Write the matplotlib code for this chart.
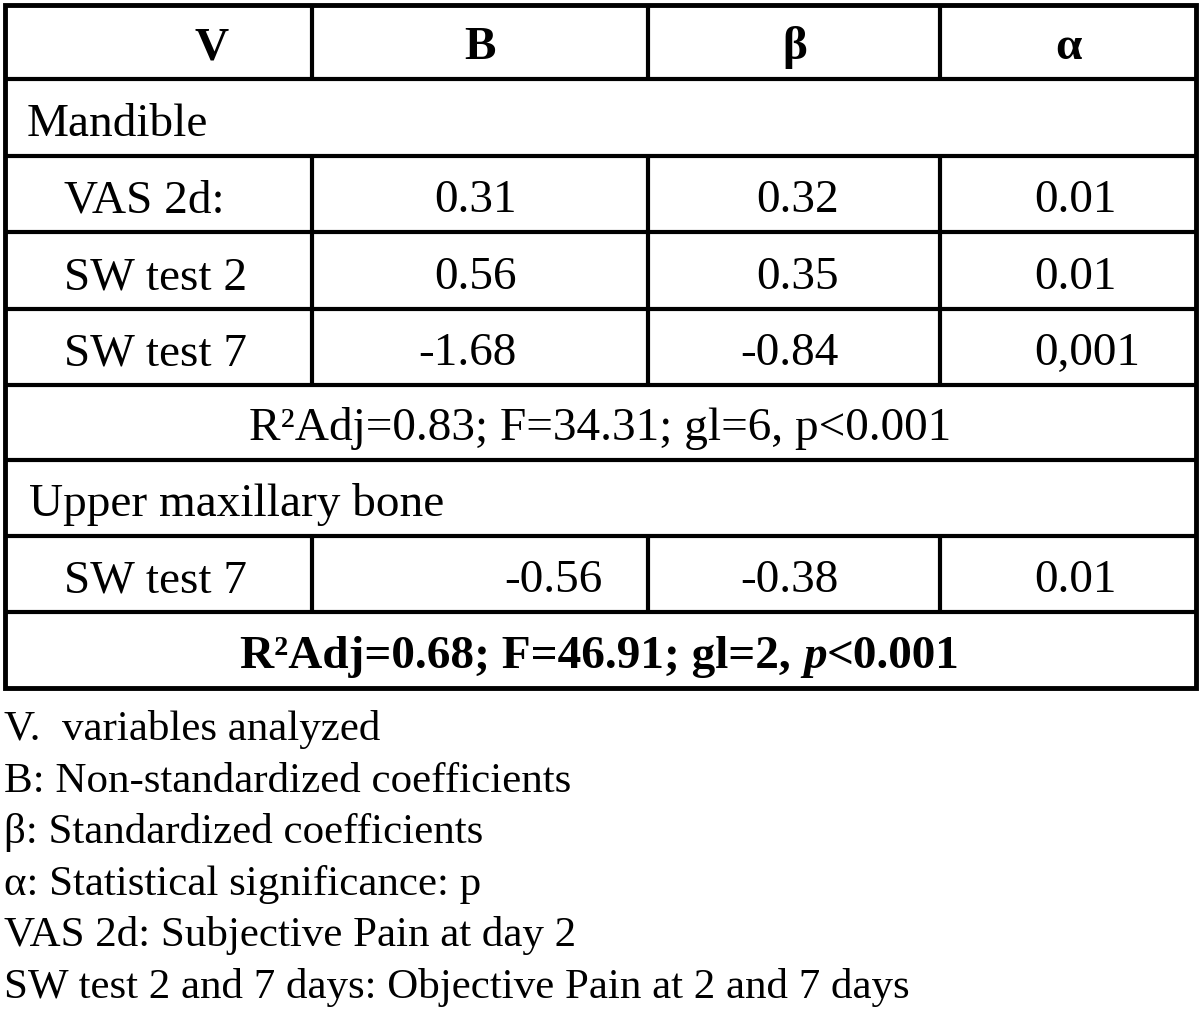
import matplotlib
matplotlib.use("Agg")
import matplotlib.pyplot as plt
from matplotlib.patches import Rectangle

# table content
headers = ["V", "B", "β", "α"]
group1 = "Mandible"
mandible_vars = ["VAS 2d:", "SW test 2", "SW test 7"]
mandible_B = ["0.31", "0.56", "-1.68"]
mandible_beta = ["0.32", "0.35", "-0.84"]
mandible_alpha = ["0.01", "0.01", "0,001"]
mandible_fit = "R²Adj=0.83; F=34.31; gl=6, p<0.001"
group2 = "Upper maxillary bone"
upper_vars = ["SW test 7"]
upper_B = ["-0.56"]
upper_beta = ["-0.38"]
upper_alpha = ["0.01"]
upper_fit = ["R²Adj=0.68; F=46.91; gl=2,", "p", "<0.001"]
notes = ["V.  variables analyzed",
         "B: Non-standardized coefficients",
         "β: Standardized coefficients",
         "α: Statistical significance: p",
         "VAS 2d: Subjective Pain at day 2",
         "SW test 2 and 7 days: Objective Pain at 2 and 7 days"]

# layout in pixels
W, H = 1200, 1013
col_x = [5, 312, 648, 940, 1196]
row_y = [5, 79, 156, 232, 309, 385, 460, 536, 612, 688]
split_rows = [0, 2, 3, 4, 7]
fs = 34
fs_note = 31
font = "Liberation Serif"

fig = plt.figure(figsize=(W / 100, H / 100), dpi=100)
ax = fig.add_axes([0, 0, 1, 1])
ax.set_xlim(0, W)
ax.set_ylim(H, 0)
ax.axis("off")

lw = 3.0
for y in row_y[1:-1]:
    ax.hlines(y, col_x[0], col_x[-1], color="black", lw=lw)
for r in split_rows:
    for x in col_x[1:-1]:
        ax.vlines(x, row_y[r], row_y[r + 1], color="black", lw=lw)
ax.add_patch(Rectangle((col_x[0], row_y[0]), col_x[-1] - col_x[0], row_y[-1] - row_y[0],
                       fill=False, ec="black", lw=3.5, joinstyle="miter"))


def base(r):
    return row_y[r + 1] - 20


def txt(x, r, s, ha="center", **kw):
    return ax.text(x, base(r), s, ha=ha, va="baseline", fontsize=fs, family=font, **kw)


header_x = [212, 480, 795, 1068]
b_right = 517
beta_right = 839
alpha_left = 1034

# header
for i, h in enumerate(headers):
    txt(header_x[i], 0, h, weight="bold")

txt(27, 1, group1, ha="left")
for k in range(3):
    r = 2 + k
    txt(64, r, mandible_vars[k], ha="left")
    txt(b_right, r, mandible_B[k], ha="right")
    txt(beta_right, r, mandible_beta[k], ha="right")
    txt(alpha_left, r, mandible_alpha[k], ha="left")
txt(600, 5, mandible_fit)
txt(29, 6, group2, ha="left")
txt(64, 7, upper_vars[0], ha="left")
txt(603, 7, upper_B[0], ha="right")
txt(beta_right, 7, upper_beta[0], ha="right")
txt(alpha_left, 7, upper_alpha[0], ha="left")

# bold fit line with italic p
styles = [dict(weight="bold"), dict(weight="bold", style="italic"), dict(weight="bold")]
parts = [txt(0, 8, s, ha="left", **st) for s, st in zip(upper_fit, styles)]
fig.canvas.draw()
rend = fig.canvas.get_renderer()
probe1 = txt(0, 8, "x x", ha="left", weight="bold")
probe2 = txt(0, 8, "xx", ha="left", weight="bold")
gap = probe1.get_window_extent(rend).width - probe2.get_window_extent(rend).width
probe1.remove()
probe2.remove()
widths = [p.get_window_extent(rend).width for p in parts]
total = sum(widths) + gap
x = 600 - total / 2
for i, p in enumerate(parts):
    p.set_x(x)
    x += widths[i] + (gap if i == 0 else 0)

# footnotes
for i, n in enumerate(notes):
    ax.text(4, 740 + 51.5 * i, n, ha="left", va="baseline", fontsize=fs_note, family=font)

fig.savefig("out.png", dpi=100)
